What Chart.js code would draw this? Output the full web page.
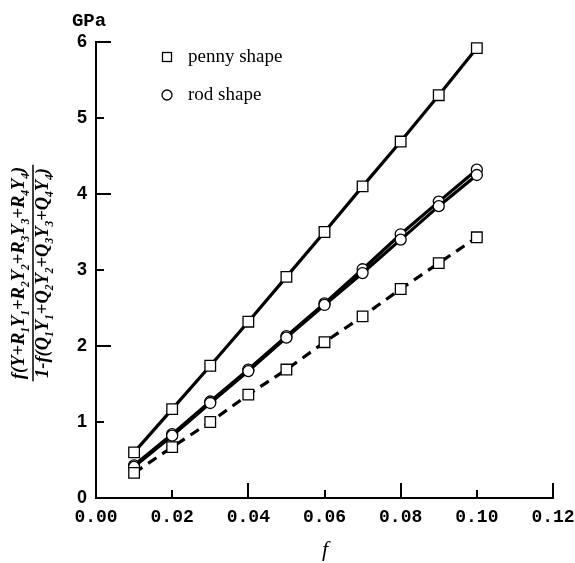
<!DOCTYPE html>
<html>
<head>
<meta charset="utf-8">
<script src="https://cdn.jsdelivr.net/npm/chart.js@4.4.1/dist/chart.umd.min.js"></script>
<style>
  html, body { margin: 0; padding: 0; background: #fff; }
</style>
</head>
<body>
<canvas id="chart" width="575" height="563"></canvas>
<script>
// volume fraction f
const fracs = [0.01, 0.02, 0.03, 0.04, 0.05, 0.06, 0.07, 0.08, 0.09, 0.10];
// penny shape, upper solid line
const pennySolid = [0.60, 1.17, 1.74, 2.32, 2.91, 3.50, 4.10, 4.69, 5.30, 5.92];
// penny shape, dashed line
const pennyDashed = [0.33, 0.67, 1.00, 1.36, 1.69, 2.05, 2.39, 2.75, 3.09, 3.43];
// rod shape, two nearly overlapping lines
const rodUpper = [0.43, 0.84, 1.27, 1.69, 2.13, 2.56, 3.01, 3.47, 3.90, 4.32];
const rodLower = [0.41, 0.82, 1.25, 1.67, 2.11, 2.54, 2.96, 3.40, 3.84, 4.25];

const xTicks = [0, 0.02, 0.04, 0.06, 0.08, 0.10, 0.12];
const yTicks = [0, 1, 2, 3, 4, 5, 6];

const toPoints = ys => fracs.map((x, i) => ({ x: x, y: ys[i] }));

function series(ys, style, dashed) {
  return {
    data: toPoints(ys),
    borderColor: "#000",
    borderWidth: 3.2,
    borderDash: dashed ? [10, 7] : [],
    pointStyle: style,
    pointRadius: style === "rect" ? 7.5 : 5.5,
    pointBackgroundColor: "#fff",
    pointBorderColor: "#000",
    pointBorderWidth: 1.3,
    tension: 0,
    clip: false,
  };
}

// draws text with subscripts along the current x direction
function drawSubText(ctx, parts, size, x, y) {
  let cx = x;
  parts.forEach(([t, sub]) => {
    ctx.font = "italic bold " + (sub ? size * 0.62 : size) + "px 'Liberation Serif'";
    ctx.fillText(t, cx, sub ? y + size * 0.28 : y);
    cx += ctx.measureText(t).width;
  });
}
function measureSubText(ctx, parts, size) {
  let w = 0;
  parts.forEach(([t, sub]) => {
    ctx.font = "italic bold " + (sub ? size * 0.62 : size) + "px 'Liberation Serif'";
    w += ctx.measureText(t).width;
  });
  return w;
}

const numer = [["f(Y+R", 0], ["1", 1], ["Y", 0], ["1", 1], ["+R", 0], ["2", 1], ["Y", 0], ["2", 1],
  ["+R", 0], ["3", 1], ["Y", 0], ["3", 1], ["+R", 0], ["4", 1], ["Y", 0], ["4", 1], [")", 0]];
const denom = [["1-f(Q", 0], ["1", 1], ["Y", 0], ["1", 1], ["+Q", 0], ["2", 1], ["Y", 0], ["2", 1],
  ["+Q", 0], ["3", 1], ["Y", 0], ["3", 1], ["+Q", 0], ["4", 1], ["Y", 0], ["4", 1], [")", 0]];

const decor = {
  id: "decor",
  afterDraw(chart) {
    const ctx = chart.ctx;
    const xs = chart.scales.x, ys = chart.scales.y;
    const area = chart.chartArea;
    ctx.save();
    ctx.strokeStyle = "#000";
    ctx.lineWidth = 2;
    // inward ticks, long on every second one
    xTicks.forEach((v, i) => {
      if (i === 0) return;
      const len = i % 2 === 0 ? 15 : 8;
      const px = Math.round(xs.getPixelForValue(v));
      ctx.beginPath();
      ctx.moveTo(px, area.bottom);
      ctx.lineTo(px, area.bottom - len);
      ctx.stroke();
    });
    yTicks.forEach((v, i) => {
      if (i === 0) return;
      const len = i % 2 === 0 ? 15 : 8;
      const py = Math.round(ys.getPixelForValue(v));
      ctx.beginPath();
      ctx.moveTo(area.left, py);
      ctx.lineTo(area.left + len, py);
      ctx.stroke();
    });

    // unit label
    ctx.fillStyle = "#000";
    ctx.font = "bold 19px 'Liberation Mono'";
    ctx.textAlign = "center";
    ctx.textBaseline = "middle";
    ctx.fillText("GPa", 89, 21);

    // x title
    ctx.font = "italic 22px 'Liberation Serif'";
    ctx.fillText("f", 325, 550);

    // legend
    ctx.lineWidth = 1.3;
    ctx.fillStyle = "#fff";
    ctx.fillRect(162.5, 52.5, 9, 9);
    ctx.strokeRect(162.5, 52.5, 9, 9);
    ctx.beginPath();
    ctx.arc(167, 95, 5, 0, Math.PI * 2);
    ctx.fill();
    ctx.stroke();
    ctx.fillStyle = "#000";
    ctx.textAlign = "left";
    ctx.font = "19px 'Liberation Serif'";
    ctx.fillText("penny shape", 188, 57);
    ctx.fillText("rod shape", 188, 95);

    // rotated fraction for the y title
    const size = 18.5;
    const cy = 273;
    ctx.translate(33, cy);
    ctx.rotate(-Math.PI / 2);
    ctx.textAlign = "left";
    ctx.textBaseline = "alphabetic";
    const wn = measureSubText(ctx, numer, size);
    const wd = measureSubText(ctx, denom, size);
    drawSubText(ctx, numer, size, -wn / 2, -9);
    drawSubText(ctx, denom, size, -wd / 2, 15);
    ctx.lineWidth = 1.5;
    ctx.beginPath();
    const half = Math.max(wn, wd) / 2 + 2;
    ctx.moveTo(-half, 0);
    ctx.lineTo(half, 0);
    ctx.stroke();
    ctx.restore();
  },
};

new Chart(document.getElementById("chart"), {
  type: "line",
  data: {
    datasets: [
      series(pennyDashed, "rect", true),
      series(rodLower, "circle", false),
      series(rodUpper, "circle", false),
      series(pennySolid, "rect", false),
    ],
  },
  options: {
    responsive: false,
    animation: false,
    layout: { padding: { top: 42, right: 22, left: 0, bottom: 0 } },
    plugins: { legend: { display: false }, tooltip: { enabled: false } },
    scales: {
      x: {
        type: "linear",
        min: 0,
        max: 0.12,
        afterBuildTicks: s => { s.ticks = xTicks.map(v => ({ value: v })); },
        afterFit: s => { s.height = 65; s.paddingLeft = 0; s.paddingRight = 0; },
        grid: { drawOnChartArea: false, drawTicks: false },
        border: { color: "#000", width: 2 },
        ticks: {
          padding: 9,
          color: "#000",
          font: { family: "'Liberation Mono'", size: 18, weight: "bold" },
          callback: v => Number(v).toFixed(2),
          maxRotation: 0,
        },
      },
      y: {
        type: "linear",
        min: 0,
        max: 6,
        afterBuildTicks: s => { s.ticks = yTicks.map(v => ({ value: v })); },
        afterFit: s => { s.width = 96; s.paddingTop = 0; s.paddingBottom = 0; },
        grid: { drawOnChartArea: false, drawTicks: false },
        border: { color: "#000", width: 2 },
        ticks: {
          padding: 9,
          color: "#000",
          font: { family: "'Liberation Sans'", size: 18, weight: "bold" },
          callback: v => String(v),
        },
      },
    },
  },
  plugins: [decor],
});
</script>
</body>
</html>
